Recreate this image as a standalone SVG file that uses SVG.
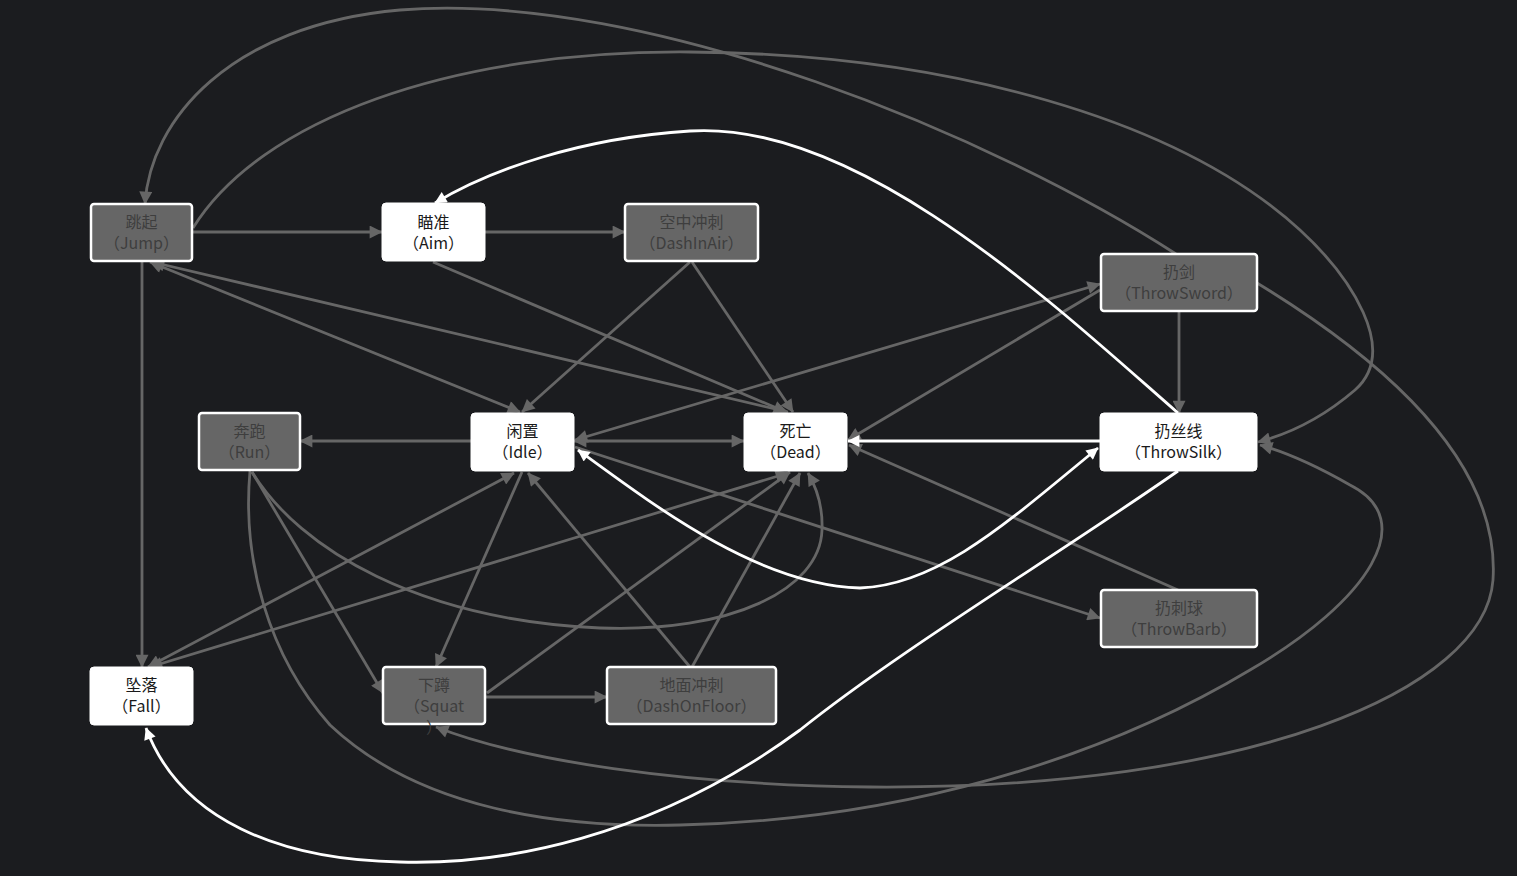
<svg xmlns="http://www.w3.org/2000/svg" width="1517" height="876" viewBox="0 0 1517 876">
<defs>
<style>
.bg{fill:#1b1c1f}
.ng rect{fill:#666;stroke:#fff;stroke-width:2.5}
.nw rect{fill:#fff;stroke:#fff;stroke-width:1}
text{font-family:"Noto Sans CJK SC","Noto Sans",sans-serif;font-size:16px;text-anchor:middle;text-spacing-trim:space-all}
.ng text{fill:#3e3e3e}
.nw text{fill:#1a1a1a}
.e{fill:none;stroke:#666;stroke-width:2.8}
.w{fill:none;stroke:#fff;stroke-width:2.8}
.ag{marker-end:url(#ag)}
.aw{marker-end:url(#aw)}
.bg2{marker-start:url(#ag);marker-end:url(#ag)}
.bw2{marker-start:url(#aw);marker-end:url(#aw)}
</style>
<marker id="ag" viewBox="0 0 10 10" refX="9.5" refY="5" markerUnits="userSpaceOnUse" markerWidth="17" markerHeight="13" orient="auto-start-reverse"><path d="M0,0 L10,5 L0,10 z" fill="#666"/></marker>
<marker id="aw" viewBox="0 0 10 10" refX="9.5" refY="5" markerUnits="userSpaceOnUse" markerWidth="16" markerHeight="12" orient="auto-start-reverse"><path d="M0,0 L10,5 L0,10 z" fill="#fff"/></marker>
</defs>
<rect class="bg" x="0" y="0" width="1517" height="876"/>
<g id="connectors">
<path class="e ag" d="M192,232 L382,232"/>
<path class="e ag" d="M485,232 L625,232"/>
<path class="e ag" d="M142,261 L142,667"/>
<path class="e ag" d="M1176,254 C1000,140 650,-10 400,10 C230,25 150,120 145,204"/>
<path class="e ag" d="M193,228 C260,120 450,50 690,52 C950,54 1180,120 1300,230 C1350,276 1400,350 1355,390 C1320,420 1285,435 1258,442"/>
<path class="e ag" d="M1179,311 L1179,413"/>
<path class="e ag" d="M1257,283 C1400,370 1500,470 1493,580 C1485,690 1250,790 870,787 C680,785 520,760 436,727"/>
<path class="e ag" d="M250,471 C242,560 268,655 330,725 C420,810 560,828 680,825 C900,820 1100,760 1250,670 C1370,600 1420,520 1350,485 C1315,465 1285,452 1260,445"/>
<path class="e ag" d="M252,472 C300,550 420,620 600,628 C730,633 820,590 822,530 C823,505 815,485 808,473"/>
<path class="e ag" d="M252,472 L383,693"/>
<path class="e ag" d="M471,441 L300,441"/>
<path class="e bg2" d="M574,441 L744,441"/>
<path class="e bg2" d="M150,262 L520,412"/>
<path class="e bg2" d="M152,262 L788,412"/>
<path class="e ag" d="M433,262 L786,412"/>
<path class="e ag" d="M690,262 L522,412"/>
<path class="e ag" d="M692,262 L793,412"/>
<path class="e bg2" d="M575,440 L1100,284"/>
<path class="e ag" d="M1100,290 L848,440"/>
<path class="e ag" d="M1178,590 L849,445"/>
<path class="e ag" d="M575,447 L1100,618"/>
<path class="e ag" d="M485,697 L607,697"/>
<path class="e ag" d="M487,693 L790,472"/>
<path class="e ag" d="M690,667 L528,473"/>
<path class="e ag" d="M692,667 L800,473"/>
<path class="e ag" d="M522,472 L436,667"/>
<path class="e bg2" d="M148,667 L514,473"/>
<path class="e bg2" d="M150,667 L788,473"/>
<path class="w aw" d="M1178,413 C1060,310 860,120 690,131 C580,138 490,170 435,203"/>
<path class="w aw" d="M1100,441 L848,441"/>
<path class="w bw2" d="M578,450 C660,510 760,585 860,588 C940,585 1010,520 1098,448"/>
<path class="w aw" d="M1178,471 C1050,560 900,650 800,730 C650,840 500,865 400,862 C280,860 180,820 146,728"/>
</g>
<g id="Jump" class="ng"><rect x="91" y="204" width="101" height="57" rx="3"/><text x="141.5" y="228">跳起</text><text x="141.5" y="249">（Jump）</text></g>
<g id="Aim" class="nw"><rect x="382" y="203" width="103" height="58" rx="4"/><text x="433.5" y="228">瞄准</text><text x="433.5" y="249">（Aim）</text></g>
<g id="DashInAir" class="ng"><rect x="625" y="204" width="133" height="57" rx="3"/><text x="691.5" y="228">空中冲刺</text><text x="691.5" y="249">（DashInAir）</text></g>
<g id="ThrowSword" class="ng"><rect x="1101" y="254" width="156" height="57" rx="3"/><text x="1179" y="278">扔剑</text><text x="1179" y="299">（ThrowSword）</text></g>
<g id="Run" class="ng"><rect x="199" y="413" width="101" height="57" rx="3"/><text x="249.5" y="437">奔跑</text><text x="249.5" y="458">（Run）</text></g>
<g id="Idle" class="nw"><rect x="471" y="413" width="103" height="58" rx="4"/><text x="522.5" y="437">闲置</text><text x="522.5" y="458">（Idle）</text></g>
<g id="Dead" class="nw"><rect x="744" y="413" width="103" height="58" rx="4"/><text x="795.5" y="437">死亡</text><text x="795.5" y="458">（Dead）</text></g>
<g id="ThrowSilk" class="nw"><rect x="1100" y="413" width="157" height="58" rx="4"/><text x="1178.5" y="437">扔丝线</text><text x="1178.5" y="458">（ThrowSilk）</text></g>
<g id="ThrowBarb" class="ng"><rect x="1101" y="590" width="156" height="57" rx="3"/><text x="1179" y="614">扔刺球</text><text x="1179" y="635">（ThrowBarb）</text></g>
<g id="Fall" class="nw"><rect x="90" y="667" width="103" height="58" rx="4"/><text x="141.5" y="691">坠落</text><text x="141.5" y="712">（Fall）</text></g>
<g id="Squat" class="ng"><rect x="383" y="667" width="102" height="57" rx="3"/><text x="434" y="691">下蹲</text><text x="434" y="712">（Squat</text><text x="434" y="733">）</text></g>
<g id="DashOnFloor" class="ng"><rect x="607" y="667" width="169" height="57" rx="3"/><text x="691.5" y="691">地面冲刺</text><text x="691.5" y="712">（DashOnFloor）</text></g>
</svg>
